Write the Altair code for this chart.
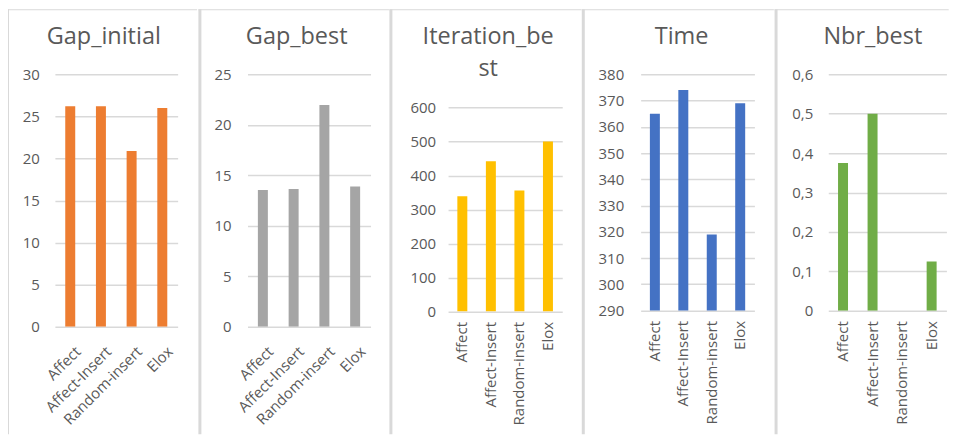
import altair as alt
import pandas as pd

# ---------------- data ----------------
categories = ["Affect", "Affect-Insert", "Random-insert", "Elox"]
gap_initial = [26.2, 26.2, 20.9, 26.0]
gap_best = [13.55, 13.65, 21.95, 13.9]
iteration_best = [339, 442, 356, 500]
time_values = [365, 374, 319, 369]
nbr_best = [0.375, 0.5, 0.0, 0.125]

titles = ["Gap_initial", "Gap_best", ["Iteration_be", "st"], "Time", "Nbr_best"]
series = [gap_initial, gap_best, iteration_best, time_values, nbr_best]
colors = ["#ED7D31", "#A5A5A5", "#FFC000", "#4472C4", "#70AD47"]
y_ticks = [
    [0, 5, 10, 15, 20, 25, 30],
    [0, 5, 10, 15, 20, 25],
    [0, 100, 200, 300, 400, 500, 600],
    [290, 300, 310, 320, 330, 340, 350, 360, 370, 380],
    [0, 0.1, 0.2, 0.3, 0.4, 0.5, 0.6],
]

# ---------------- layout (page pixels) ----------------
# All plot areas start at the same top (Vega aligns plot origins in a row);
# grid top / grid bottom give the pixel span of each panel's value axis.
Y0 = 73.3
geom = [
    dict(x0=55.0, w=123.0, gtop=73.3, gbot=326.3, sep=(8.0, 9.0), end=197.5, tc=104.0, ylp=15.5, rot=45),
    dict(x0=246.7, w=123.3, gtop=73.3, gbot=326.3, sep=(197.5, 200.5), end=388.5, tc=296.0, ylp=16.5, rot=45),
    dict(x0=447.3, w=114.4, gtop=106.7, gbot=311.0, sep=(388.5, 391.5), end=581.0, tc=487.5, ylp=12.5, rot=90),
    dict(x0=640.0, w=114.0, gtop=73.3, gbot=310.0, sep=(581.0, 584.0), end=773.5, tc=681.0, ylp=17.0, rot=90),
    dict(x0=827.3, w=118.4, gtop=73.3, gbot=310.3, sep=(773.5, 776.5), end=948.0, tc=872.0, ylp=15.5, rot=90),
]

TOP = 8.0
BOTTOM = 434.0
LINE = "#d9d9d9"
TEXT = "#595959"
FONT = "Open Sans"


def panel(i):
    g = geom[i]
    df = pd.DataFrame({"cat": categories, "val": series[i]})
    ticks = y_ticks[i]
    h = g["gbot"] - Y0

    if g["rot"] == 45:
        xaxis = alt.Axis(labelAngle=315, labelAlign="right", labelBaseline="top",
                         labelPadding=17, labelOffset=3)
    else:
        xaxis = alt.Axis(labelAngle=270, labelAlign="right", labelBaseline="middle",
                         labelPadding=10)

    label_expr = "datum.label"
    if i == 4:
        label_expr = "replace(format(datum.value, '.1~f'), '.', ',')"

    bars = alt.Chart(df).mark_bar(size=10, color=colors[i], clip=True).encode(
        x=alt.X("cat:N", sort=categories, title=None,
                scale=alt.Scale(paddingInner=0, paddingOuter=0), axis=xaxis),
        y=alt.Y("val:Q", title=None,
                scale=alt.Scale(domain=[ticks[0], ticks[-1]], zero=(ticks[0] == 0), nice=False,
                                range=[h, g["gtop"] - Y0]),
                axis=alt.Axis(values=ticks, grid=True, labelPadding=g["ylp"],
                              labelExpr=label_expr)),
    )

    deco = alt.Chart(pd.DataFrame({"k": [0]}))
    lx = lambda v: v - g["x0"]
    ly = lambda v: v - Y0
    sep = deco.mark_rect(color=LINE).encode(
        x=alt.value(lx(g["sep"][0])), x2=alt.value(lx(g["sep"][1])),
        y=alt.value(ly(TOP)), y2=alt.value(ly(BOTTOM)),
    )
    top = deco.mark_rect(color=LINE).encode(
        x=alt.value(lx(g["sep"][0])), x2=alt.value(lx(g["end"])),
        y=alt.value(ly(TOP)), y2=alt.value(ly(TOP + 1)),
    )
    title = deco.mark_text(font=FONT, fontSize=23.5, color=TEXT, align="center",
                           baseline="alphabetic", lineHeight=32).encode(
        x=alt.value(lx(g["tc"])), y=alt.value(ly(43.3)), text=alt.value(titles[i]),
    )
    return alt.layer(sep, top, bars, title).properties(width=g["w"], height=h)


chart = alt.hconcat(*[panel(i) for i in range(5)], spacing=0, padding=0).configure_view(
    strokeWidth=0
).configure_axis(
    labelFont=FONT, labelFontSize=15, labelColor=TEXT, domain=False, ticks=False,
    gridColor=LINE, gridWidth=1.5,
).configure_axisX(grid=False)

chart.save("out.html", embed_options={"renderer": "svg", "actions": False})
